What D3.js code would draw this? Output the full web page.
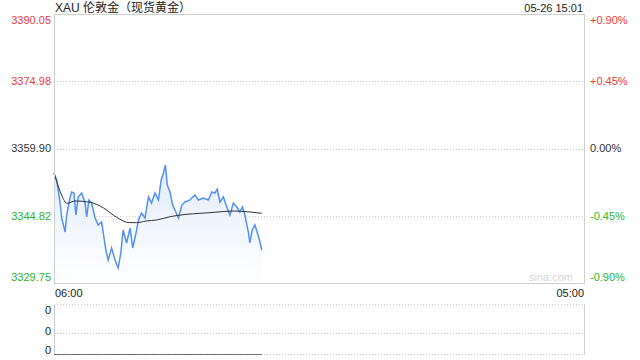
<!DOCTYPE html>
<html>
<head>
<meta charset="utf-8">
<script src="https://cdn.jsdelivr.net/npm/d3@7"></script>
<style>
  body { margin: 0; background: #fff; }
  svg text { font-family: Arial, "Liberation Sans", "Noto Sans CJK SC", sans-serif; }
</style>
</head>
<body>
<div id="chart"></div>
<script>
// minutes after 06:00 and price
const priceMinutes = [0, 7, 16, 20, 29, 33, 42, 46, 52, 57, 63, 72, 81, 85, 91, 98, 107, 115, 124, 128,
  135, 141, 150, 159, 167, 174, 180, 189, 198, 205, 214, 220, 228, 237, 246, 254, 263, 272, 279, 285,
  290, 295, 302, 309, 315, 324, 333, 341, 354, 367, 376, 389, 402, 411, 419, 425, 432, 441, 450, 458,
  467, 476, 484, 491, 497, 506, 510, 516, 523, 529, 535, 541];
const prices = [3354.34, 3352.84, 3347.68, 3344.32, 3341.18, 3344.99, 3349.03, 3350.15, 3349.92, 3344.99,
  3349.03, 3349.92, 3347.68, 3344.54, 3348.36, 3347.68, 3344.32, 3342.75, 3343.42, 3341.18,
  3337.15, 3334.91, 3337.60, 3334.91, 3333.11, 3336.47, 3341.63, 3338.72, 3342.08, 3337.60,
  3341.18, 3343.87, 3345.44, 3344.32, 3349.03, 3347.68, 3349.92, 3348.36, 3352.84, 3354.41,
  3356.20, 3351.72, 3350.15, 3347.23, 3346.11, 3344.32, 3347.23, 3347.91, 3348.36, 3349.48,
  3348.36, 3348.80, 3348.36, 3350.15, 3349.92, 3350.82, 3347.91, 3349.03, 3346.79, 3344.99,
  3347.68, 3346.79, 3345.67, 3346.79, 3344.99, 3341.18, 3338.72, 3341.63, 3342.75, 3341.18,
  3339.39, 3337.15];

// average price line
const avgMinutes = [0, 10, 21, 33, 55, 85, 120, 137, 154, 172, 193, 215, 240, 267, 302, 341, 380, 419, 466, 510, 541];
const avgPrices = [3354.41, 3351.72, 3349.25, 3347.62, 3348.13, 3347.97, 3347.01, 3346.11, 3344.99, 3344.03,
  3343.31, 3343.27, 3343.65, 3343.87, 3344.61, 3345.11, 3345.37, 3345.60, 3345.89, 3345.67, 3345.37];

const volumes = priceMinutes.map(() => 0);

const priceTicks = [3390.05, 3374.98, 3359.90, 3344.82, 3329.75];
const pctTicks = ["+0.90%", "+0.45%", "0.00%", "-0.45%", "-0.90%"];
const volTicks = ["0", "0", "0"];
const timeTicks = ["06:00", "05:00"];
const title = "XAU 伦敦金（现货黄金）";
const stamp = "05-26 15:01";

function drawChart() {
  const width = 640;
  const height = 360;
  const left = 54, right = 584, top = 14, bottom = 283;
  const volTop = 304, volBottom = 354;

  const svg = d3.select('#chart')
    .append('svg')
    .attr('width', width)
    .attr('height', height);

  const x = d3.scaleLinear().domain([0, 1380]).range([left, right]);
  const y = d3.scaleLinear().domain([3329.75, 3390.05]).range([bottom, top]);
  const yVol = d3.scaleLinear().domain([0, 1]).range([volBottom, volTop]);

  const colorOf = (i) => i < 2 ? '#f03a3a' : (i === 2 ? '#333' : '#2cb52c');

  // gradient for the area
  const defs = svg.append('defs');
  const grad = defs.append('linearGradient')
    .attr('id', 'areaFill').attr('x1', 0).attr('y1', 0).attr('x2', 0).attr('y2', 1);
  grad.append('stop').attr('offset', '0%').attr('stop-color', '#e2ebfb');
  grad.append('stop').attr('offset', '100%').attr('stop-color', '#ffffff');

  // grid lines
  svg.selectAll('line.grid')
    .data(priceTicks.slice(1, 4))
    .enter()
    .append('line')
    .attr('class', 'grid')
    .attr('x1', left).attr('x2', right)
    .attr('y1', d => Math.round(y(d)) + 0.5)
    .attr('y2', d => Math.round(y(d)) + 0.5)
    .style('stroke', '#c8c8c8')
    .style('stroke-dasharray', '1,2');

  // price area + lines
  const pts = priceMinutes.map((m, i) => [m, prices[i]]);
  const area = d3.area()
    .x(d => x(d[0]))
    .y0(bottom)
    .y1(d => y(d[1]));
  svg.append('path')
    .attr('d', area(pts))
    .attr('fill', 'url(#areaFill)');

  const line = d3.line()
    .x(d => x(d[0]))
    .y(d => y(d[1]));
  svg.append('path')
    .attr('d', line(pts))
    .attr('fill', 'none')
    .style('stroke', '#5390f0')
    .style('stroke-width', 1.5);

  const avgPts = avgMinutes.map((m, i) => [m, avgPrices[i]]);
  svg.append('path')
    .attr('d', d3.line().curve(d3.curveMonotoneX).x(d => x(d[0])).y(d => y(d[1]))(avgPts))
    .attr('fill', 'none')
    .style('stroke', '#333')
    .style('stroke-width', 1);

  // frame of the main panel
  svg.append('rect')
    .attr('x', left + 0.5).attr('y', top + 0.5)
    .attr('width', right - left).attr('height', bottom - top)
    .attr('fill', 'none')
    .style('stroke', '#cfcfcf');

  // watermark
  svg.append('text')
    .attr('x', right - 11).attr('y', bottom - 2)
    .attr('text-anchor', 'end')
    .style('font-size', '11px')
    .style('fill', '#d6d6d6')
    .text('sina.com');

  // left price labels
  const labelDy = (i) => i === 0 ? 6 : (i === 4 ? -6 : 0);
  svg.selectAll('text.pl')
    .data(priceTicks)
    .enter()
    .append('text')
    .attr('class', 'pl')
    .attr('x', 51)
    .attr('y', (d, i) => y(d) + labelDy(i))
    .attr('dy', '0.35em')
    .attr('text-anchor', 'end')
    .style('font-size', '11px')
    .style('fill', (d, i) => colorOf(i))
    .text(d => d.toFixed(2));

  // right percent labels
  svg.selectAll('text.pr')
    .data(pctTicks)
    .enter()
    .append('text')
    .attr('class', 'pr')
    .attr('x', 590)
    .attr('y', (d, i) => y(priceTicks[i]) + labelDy(i))
    .attr('dy', '0.35em')
    .style('font-size', '11px')
    .style('fill', (d, i) => colorOf(i))
    .text(d => d);

  // title and time stamp
  svg.append('text')
    .attr('x', 55).attr('y', 8).attr('dy', '0.35em')
    .style('font-size', '12px').style('fill', '#222')
    .text(title);
  svg.append('text')
    .attr('x', right - 1).attr('y', 8).attr('dy', '0.35em')
    .attr('text-anchor', 'end')
    .style('font-size', '11px').style('fill', '#222')
    .text(stamp);

  // time labels
  svg.selectAll('text.tl')
    .data(timeTicks)
    .enter()
    .append('text')
    .attr('class', 'tl')
    .attr('x', (d, i) => i === 0 ? left + 1 : right)
    .attr('y', 293)
    .attr('dy', '0.35em')
    .attr('text-anchor', (d, i) => i === 0 ? 'start' : 'end')
    .style('font-size', '11px').style('fill', '#222')
    .text(d => d);

  // volume panel
  const volGrid = [volTop, (volTop + volBottom) / 2 + 4];
  svg.selectAll('line.vg')
    .data(volGrid)
    .enter()
    .append('line')
    .attr('class', 'vg')
    .attr('x1', left).attr('x2', right)
    .attr('y1', d => Math.round(d) + 0.5).attr('y2', d => Math.round(d) + 0.5)
    .style('stroke', '#c8c8c8')
    .style('stroke-dasharray', '1,2');
  svg.append('line')
    .attr('x1', left).attr('x2', right)
    .attr('y1', volBottom + 0.5).attr('y2', volBottom + 0.5)
    .style('stroke', '#c8c8c8')
    .style('stroke-dasharray', '1,2');
  [left, right].forEach(px => {
    svg.append('line')
      .attr('x1', px + 0.5).attr('x2', px + 0.5)
      .attr('y1', volTop).attr('y2', volBottom + 1)
      .style('stroke', '#cfcfcf');
  });
  const volPts = priceMinutes.map((m, i) => [m, volumes[i]]);
  svg.append('path')
    .attr('d', d3.line().x(d => x(d[0])).y(d => Math.round(yVol(d[1])) + 0.5)(volPts))
    .attr('fill', 'none')
    .style('stroke', '#666')
    .style('stroke-width', 1);

  const volLabelY = [310, 331, 350];
  svg.selectAll('text.vl')
    .data(volTicks)
    .enter()
    .append('text')
    .attr('class', 'vl')
    .attr('x', 51)
    .attr('y', (d, i) => volLabelY[i])
    .attr('dy', '0.35em')
    .attr('text-anchor', 'end')
    .style('font-size', '11px').style('fill', '#222')
    .text(d => d);
}

window.onload = drawChart;
</script>
</body>
</html>
